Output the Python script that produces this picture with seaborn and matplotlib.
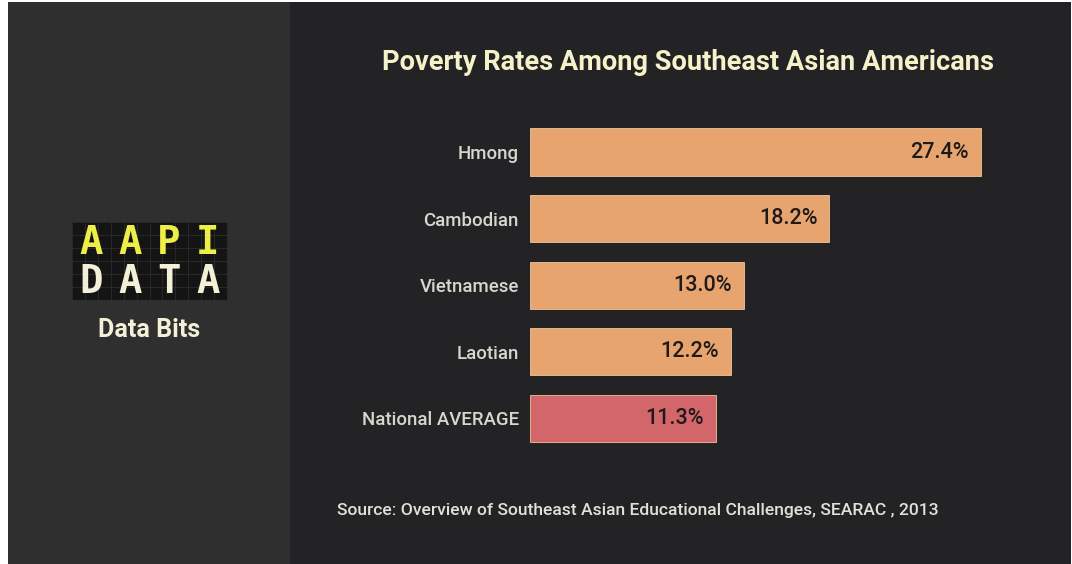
import matplotlib
matplotlib.use("Agg")
import matplotlib.pyplot as plt
from matplotlib.patches import Rectangle
import seaborn as sns
import pandas as pd

# data
groups = ["Hmong", "Cambodian", "Vietnamese", "Laotian", "National AVERAGE"]
rates = [27.4, 18.2, 13.0, 12.2, 11.3]
bar_colors = ["#E8A46E", "#E8A46E", "#E8A46E", "#E8A46E", "#D2666B"]

title = "Poverty Rates Among Southeast Asian Americans"
source = "Source: Overview of Southeast Asian Educational Challenges, SEARAC , 2013"
logo_top = ["A", "A", "P", "I"]
logo_bottom = ["D", "A", "T", "A"]

df = pd.DataFrame({"group": groups, "rate": rates})

sns.set_theme(style="white")
plt.rcParams["font.family"] = ["Roboto", "DejaVu Sans"]

fig = plt.figure(figsize=(10.72, 5.64), dpi=100, facecolor="white")

# background panels, pixel coords
bg = fig.add_axes([0, 0, 1, 1], zorder=0)
bg.set_xlim(0, 1072)
bg.set_ylim(564, 0)
bg.axis("off")
bg.add_patch(Rectangle((8, 2), 282, 562, color="#2f2f2f", lw=0))
bg.add_patch(Rectangle((290, 2), 781, 562, color="#232225", lw=0))

# logo block
bg.add_patch(Rectangle((72, 222), 155, 78, color="#141414", lw=0))
for i in range(13):
    x = 72 + i * 155 / 12
    bg.plot([x, x], [222, 300], color="#2c2c2c", lw=0.6)
for j in range(7):
    y = 222 + j * 78 / 6
    bg.plot([72, 227], [y, y], color="#2c2c2c", lw=0.6)
for k, (a, b) in enumerate(zip(logo_top, logo_bottom)):
    cx = 72 + 155 / 8 * (2 * k + 1)
    bg.text(cx, 243, a, ha="center", va="center", fontsize=28, fontweight="bold",
            family="DejaVu Sans Mono", color="#EEEE48")
    bg.text(cx, 282, b, ha="center", va="center", fontsize=28, fontweight="bold",
            family="DejaVu Sans Mono", color="#F2F0D6")
bg.text(149, 330, "Data Bits", ha="center", va="center", fontsize=18,
        fontweight="bold", color="#F2F0D6")

bg.text(688, 62, title, ha="center", va="center", fontsize=19.6, fontweight="bold",
        color="#F5F1C8")
bg.text(337, 511, source, ha="left", va="center", fontsize=12.6, fontweight="medium",
        color="#E2E1D8")

# bar chart
ax = fig.add_axes([530 / 1072, 0.199, 510 / 1072, 0.5905], zorder=1)
ax.patch.set_alpha(0)
sns.barplot(data=df, x="rate", y="group", hue="group", palette=bar_colors,
            saturation=1, width=0.71, legend=False, ax=ax,
            edgecolor="#F0C49A", linewidth=0.6)
ax.set_xlim(0, 31)
ax.set_xlabel("")
ax.set_ylabel("")
ax.set_xticks([])
for s in ax.spines.values():
    s.set_visible(False)
ax.tick_params(axis="y", length=0, pad=8, labelsize=13.4, labelcolor="#D8D7CE")
for lab in ax.get_yticklabels():
    lab.set_fontweight("medium")

for p, v in zip(ax.patches, rates):
    ax.annotate(f"{v:.1f}%", (p.get_width(), p.get_y() + p.get_height() / 2),
                xytext=(-12, 0), textcoords="offset pixels", ha="right", va="center",
                fontsize=15.5, fontweight="medium", color="#1E1A1A")

fig.savefig("out.png", dpi=100, facecolor="white")
